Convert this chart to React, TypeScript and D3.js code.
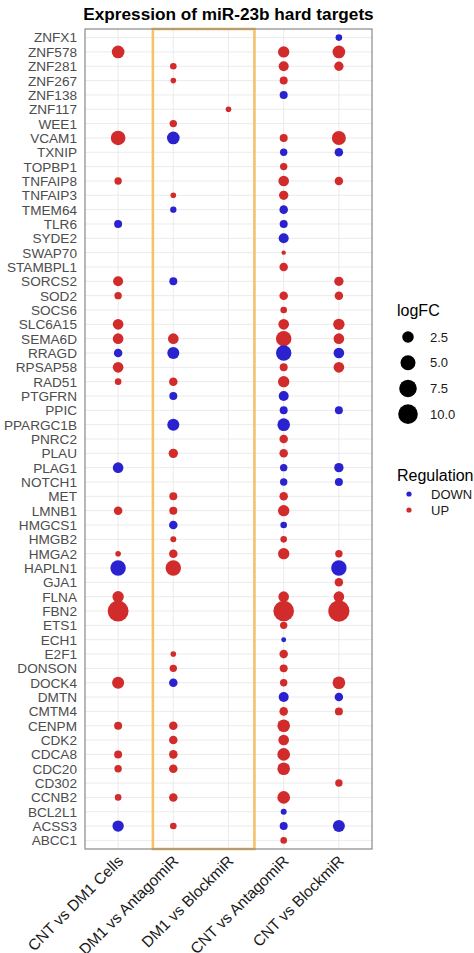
import * as d3 from 'd3'
import { useEffect, useRef } from 'react'

const width = 474, height = 953
const margin = { top: 29, right: 102, bottom: 104, left: 85 }
const font = '"Liberation Sans", Arial, sans-serif'

const _ = null

const genes = [
  'ZNFX1', 'ZNF578', 'ZNF281', 'ZNF267', 'ZNF138', 'ZNF117', 'WEE1', 'VCAM1', 'TXNIP', 'TOPBP1',
  'TNFAIP8', 'TNFAIP3', 'TMEM64', 'TLR6', 'SYDE2', 'SWAP70', 'STAMBPL1', 'SORCS2', 'SOD2', 'SOCS6',
  'SLC6A15', 'SEMA6D', 'RRAGD', 'RPSAP58', 'RAD51', 'PTGFRN', 'PPIC', 'PPARGC1B', 'PNRC2', 'PLAU',
  'PLAG1', 'NOTCH1', 'MET', 'LMNB1', 'HMGCS1', 'HMGB2', 'HMGA2', 'HAPLN1', 'GJA1', 'FLNA',
  'FBN2', 'ETS1', 'ECH1', 'E2F1', 'DONSON', 'DOCK4', 'DMTN', 'CMTM4', 'CENPM', 'CDK2',
  'CDCA8', 'CDC20', 'CD302', 'CCNB2', 'BCL2L1', 'ACSS3', 'ABCC1',
]

const comparisons = ['CNT vs DM1 Cells', 'DM1 vs AntagomiR', 'DM1 vs BlockmiR', 'CNT vs AntagomiR', 'CNT vs BlockmiR']

// signed logFC, same order as genes (negative = DOWN), null = not a target
const cntVsDm1 = [
  _, 3.2, _, _, _, _, _, 4.7, _, _,
  0.77, _, _, -0.93, _, _, _, 1.7, 0.77, _,
  2.0, 2.0, -1.1, 2.0, 0.6, _, _, _, _, _,
  -2.0, _, _, 1.1, _, _, 0.46, -5.4, _, 2.4,
  11.6, _, _, _, _, 2.8, _, _, 0.93, _,
  0.93, 0.77, _, 0.6, _, -2.4, _,
]
const dm1VsAntagomir = [
  _, _, 0.6, 0.46, _, _, 0.77, -3.2, _, _,
  _, 0.46, -0.55, _, _, _, _, -0.93, _, _,
  _, 2.0, -2.8, _, 1.1, -0.93, _, -2.8, _, 1.4,
  _, _, 0.93, 0.93, -1.1, 0.5, 1.1, 5.4, _, _,
  _, _, _, 0.46, 0.77, -1.1, _, _, 1.1, 1.1,
  1.1, 1.1, _, 1.1, _, 0.6, _,
]
const dm1VsBlockmir = [
  _, _, _, _, _, 0.46, _, _, _, _,
  _, _, _, _, _, _, _, _, _, _,
  _, _, _, _, _, _, _, _, _, _,
  _, _, _, _, _, _, _, _, _, _,
  _, _, _, _, _, _, _, _, _, _,
  _, _, _, _, _, _, _,
]
const cntVsAntagomir = [
  _, 2.4, 1.7, 0.93, -0.93, _, _, 0.93, -0.77, 0.77,
  2.0, 1.4, -1.1, -0.93, -1.7, 0.4, 1.1, _, 1.1, 0.6,
  2.0, 5.4, -5.4, 0.93, 2.4, -1.7, -0.93, -3.2, 1.1, 1.1,
  -0.77, -0.77, 1.1, 2.4, -0.6, 0.6, 2.4, _, _, 2.0,
  11.2, 0.77, -0.41, 1.1, 0.93, 0.77, -1.7, 1.1, 3.2, 2.0,
  3.2, 3.2, _, 3.2, -0.5, -0.93, 0.6,
]
const cntVsBlockmir = [
  -0.6, 3.2, 1.4, _, _, _, _, 4.2, -1.1, _,
  1.1, _, _, _, _, _, _, 1.4, 1.1, _,
  2.4, 2.0, -2.0, 2.0, _, _, -0.93, _, _, _,
  -1.4, -0.93, _, _, _, _, 0.77, -5.4, 1.1, 2.0,
  12, _, _, _, _, 3.2, -1.1, 0.93, _, _,
  _, _, 0.77, _, _, -2.8, _,
]
const series = [cntVsDm1, dm1VsAntagomir, dm1VsBlockmir, cntVsAntagomir, cntVsBlockmir]

const sizeBreaks = [2.5, 5.0, 7.5, 10.0]
const sizeLimits = [0.4, 12]
const regulations = ['DOWN', 'UP']
const regColors = ['#2A22CF', '#D12B2B']
// highlighted comparisons (x positions, 1-based)
const highlight = [1.63, 3.47]

const chart = (svgNode: SVGSVGElement) => {
  const svg = d3.select(svgNode)
  svg.selectAll('*').remove()

  const x0 = margin.left, x1 = width - margin.right
  const y0 = margin.top, y1 = height - margin.bottom

  const x = d3.scalePoint().domain(comparisons).range([x0, x1]).padding(0.6)
  const y = d3.scalePoint().domain(genes).range([y0, y1]).padding(0.6)
  const xLin = d3.scaleLinear().domain([0.4, comparisons.length + 0.6]).range([x0, x1])
  const color = d3.scaleOrdinal<string, string>().domain(regulations).range(regColors)
  const size = d3.scaleLinear().domain([0, 1]).range([2.2, 10.6])
  const radius = (v: number) =>
    size(Math.sqrt((Math.abs(v) - sizeLimits[0]) / (sizeLimits[1] - sizeLimits[0])))

  const points = series.flatMap((vals, i) =>
    vals.map((v, j) => ({ comp: comparisons[i], gene: genes[j], v }))
  ).filter(d => d.v !== null) as { comp: string, gene: string, v: number }[]

  svg.append('rect').attr('width', width).attr('height', height).attr('fill', 'white')

  // grid
  const grid = svg.append('g').attr('stroke', '#EBEBEB').attr('stroke-width', 1)
  grid.selectAll('line.h').data(genes).join('line')
    .attr('x1', x0).attr('x2', x1)
    .attr('y1', d => y(d)!).attr('y2', d => y(d)!)
  grid.selectAll('line.v').data(comparisons).join('line')
    .attr('x1', d => x(d)!).attr('x2', d => x(d)!)
    .attr('y1', y0).attr('y2', y1)

  // highlight box
  svg.append('rect')
    .attr('x', xLin(highlight[0])).attr('y', y0)
    .attr('width', xLin(highlight[1]) - xLin(highlight[0]))
    .attr('height', y1 - y0)
    .attr('fill', 'none').attr('stroke', '#F7C06A').attr('stroke-width', 2.6)

  svg.append('g')
    .selectAll('circle')
    .data(points)
    .join('circle')
    .attr('cx', d => x(d.comp)!)
    .attr('cy', d => y(d.gene)!)
    .attr('r', d => radius(d.v))
    .attr('fill', d => color(d.v < 0 ? 'DOWN' : 'UP'))

  svg.append('rect')
    .attr('x', x0).attr('y', y0).attr('width', x1 - x0).attr('height', y1 - y0)
    .attr('fill', 'none').attr('stroke', '#7F7F7F').attr('stroke-width', 1.1)

  // axes
  svg.append('g')
    .attr('font-family', font).attr('font-size', 13.6).attr('fill', '#4D4D4D')
    .attr('text-anchor', 'end')
    .selectAll('text').data(genes).join('text')
    .attr('x', x0 - 8).attr('y', d => y(d)!).attr('dy', '0.36em')
    .text(d => d)

  svg.append('g')
    .attr('font-family', font).attr('font-size', 15.5).attr('fill', '#1A1A1A')
    .attr('text-anchor', 'end')
    .selectAll('text').data(comparisons).join('text')
    .attr('transform', d => `translate(${x(d)! + 6},${y1 + 13}) rotate(-45)`)
    .text(d => d)

  svg.append('text')
    .attr('x', (x0 + x1) / 2).attr('y', 20)
    .attr('text-anchor', 'middle')
    .attr('font-family', font).attr('font-size', 17.2).attr('font-weight', 'bold')
    .text('Expression of miR-23b hard targets')

  // legends
  const lg = svg.append('g').attr('font-family', font)
  lg.append('text').attr('x', 397).attr('y', 316).attr('font-size', 16).text('logFC')
  const sl = lg.selectAll('g.size').data(sizeBreaks).join('g')
    .attr('transform', (d, i) => `translate(408,${337 + i * 25.7})`)
  sl.append('circle').attr('r', d => radius(d)).attr('fill', 'black')
  sl.append('text').attr('x', 22).attr('dy', '0.36em').attr('font-size', 13).attr('fill', '#1A1A1A')
    .text(d => d.toFixed(1))

  lg.append('text').attr('x', 397).attr('y', 481).attr('font-size', 16).text('Regulation')
  const rl = lg.selectAll('g.reg').data(regulations).join('g')
    .attr('transform', (d, i) => `translate(409,${494 + i * 16})`)
  rl.append('circle').attr('r', 2.6).attr('fill', d => color(d))
  rl.append('text').attr('x', 22).attr('dy', '0.36em').attr('font-size', 13).attr('fill', '#1A1A1A')
    .text(d => d)

  return svg.node()
}

export default function App() {
  const svg = useRef<SVGSVGElement>(null)
  useEffect(() => {
    if (svg.current) chart(svg.current)
  }, [])
  return (
    <svg ref={svg} width={width} height={height}
      style={{ position: 'absolute', left: 0, top: 0 }} />
  )
}
